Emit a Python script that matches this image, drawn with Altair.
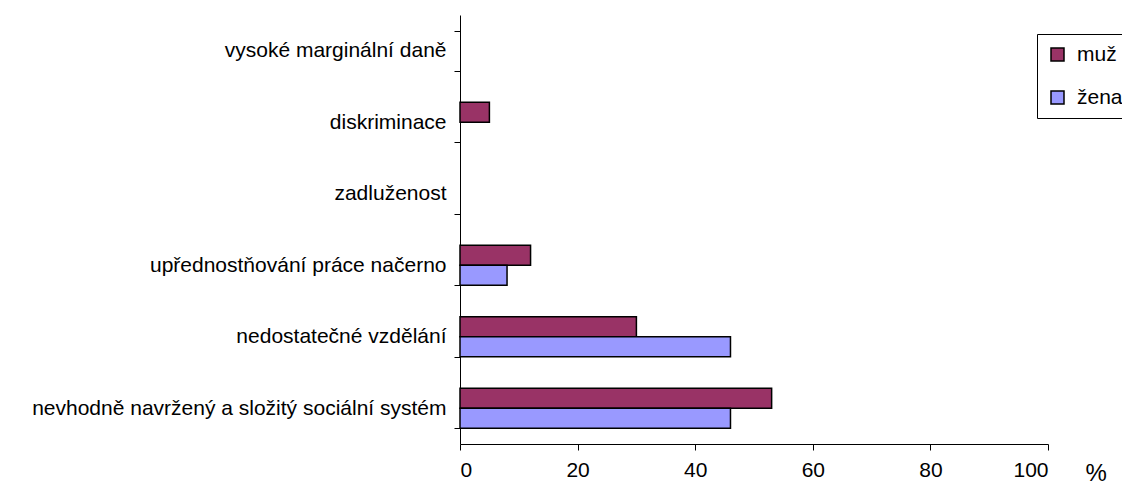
import altair as alt
import pandas as pd

categories = [
    "vysoké marginální daně",
    "diskriminace",
    "zadluženost",
    "upřednostňování práce načerno",
    "nedostatečné vzdělání",
    "nevhodně navržený a složitý sociální systém",
]
series = ["muž", "žena"]
muz = [0, 5, 0, 12, 30, 53]
zena = [0, 0, 0, 8, 46, 46]
x_ticks = [0, 20, 40, 60, 80, 100]
colors = ["#993366", "#9999FF"]

rows = []
for c, m, z in zip(categories, muz, zena):
    rows.append({"kategorie": c, "pohlaví": "muž", "hodnota": m})
    rows.append({"kategorie": c, "pohlaví": "žena", "hodnota": z})
df = pd.DataFrame(rows)

FONT = "Liberation Sans"

chart = (
    alt.Chart(df)
    .transform_filter("datum.hodnota > 0")
    .mark_bar(stroke="black", strokeWidth=1.5)
    .encode(
        y=alt.Y(
            "kategorie:N",
            sort=categories,
            scale=alt.Scale(domain=categories, paddingInner=0.44, paddingOuter=0.22),
            axis=alt.Axis(
                title=None,
                tickBand="extent",
                grid=False,
                domainColor="#000",
                tickColor="#000",
                tickSize=6,
                labelFont=FONT,
                labelFontSize=21,
                labelColor="#000",
                labelPadding=8,
                labelLimit=600,
            ),
        ),
        yOffset=alt.YOffset(
            "pohlaví:N",
            sort=series,
            scale=alt.Scale(domain=series, paddingInner=0, paddingOuter=0),
        ),
        x=alt.X(
            "hodnota:Q",
            scale=alt.Scale(domain=[0, 100], nice=False),
            axis=alt.Axis(
                values=x_ticks,
                grid=False,
                domainColor="#000",
                tickColor="#000",
                tickSize=6,
                labelFont=FONT,
                labelFontSize=21,
                labelColor="#000",
                labelPadding=9,
                title="%",
                titleFont=FONT,
                titleFontSize=24,
                titleFontWeight="normal",
                titleColor="#000",
                titleX=625,
                titleY=36,
                titleAlign="left",
                titleBaseline="alphabetic",
            ),
        ),
        color=alt.Color(
            "pohlaví:N",
            scale=alt.Scale(domain=series, range=colors),
            legend=alt.Legend(
                title=None,
                orient="none",
                legendX=577,
                legendY=19,
                direction="vertical",
                symbolType="square",
                symbolSize=169,
                symbolStrokeColor="black",
                symbolStrokeWidth=1.5,
                labelFont=FONT,
                labelFontSize=21,
                labelColor="#000",
                labelOffset=9,
                rowPadding=21,
                padding=10,
                strokeColor="black",
                fillColor="white",
            ),
        ),
    )
    .properties(
        width=588,
        height=429,
        background="white",
        autosize=alt.AutoSizeParams(type="none"),
        padding={"left": 452, "top": 7, "right": 74, "bottom": 44},
    )
    .configure_view(strokeWidth=0, stroke="transparent")
)

chart.save("out.html", embed_options={"renderer": "svg", "actions": False})
